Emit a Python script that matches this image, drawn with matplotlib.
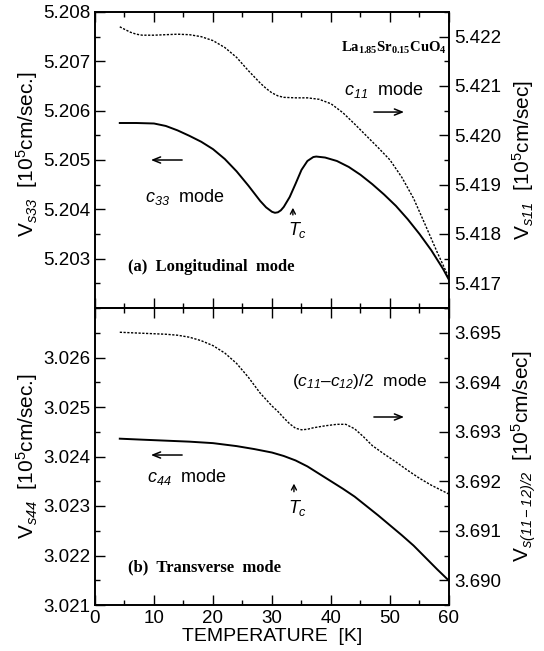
import matplotlib
matplotlib.use("Agg")
import matplotlib.pyplot as plt
from matplotlib.ticker import MultipleLocator, FixedLocator, FormatStrFormatter

plt.rcParams['font.family'] = ['Liberation Sans', 'DejaVu Sans']
plt.rcParams['mathtext.fontset'] = 'custom'
plt.rcParams['mathtext.rm'] = 'Liberation Sans:italic'
plt.rcParams['mathtext.it'] = 'Liberation Sans:italic'
plt.rcParams['mathtext.sf'] = 'Liberation Sans'
plt.rcParams['mathtext.bf'] = 'Liberation Serif:bold'

# (a) longitudinal: c33 (left axis, solid)
t_c33 = [4.2, 7, 10, 12, 14, 16, 18, 20, 22, 24, 26, 28, 29, 30, 30.5, 31,
         31.5, 32, 33, 34, 35, 36, 37, 37.5, 39, 41, 43, 45, 47, 49, 51, 53,
         55, 57, 59, 60]
v_c33 = [5.20575, 5.20575, 5.20574, 5.20569, 5.20560, 5.20549, 5.20537,
         5.20522, 5.20502, 5.20477, 5.20448, 5.20417, 5.20404, 5.20395,
         5.20393, 5.20394, 5.20398, 5.20405, 5.20425, 5.20452, 5.20480,
         5.20498, 5.20506, 5.20507, 5.20505, 5.20498, 5.20486, 5.20470,
         5.20451, 5.20430, 5.20407, 5.20380, 5.20350, 5.20317, 5.20279,
         5.20257]

# (a) longitudinal: c11 (right axis, dashed)
t_c11 = [4.2, 5, 6, 7, 8, 10, 12, 14, 16, 18, 20, 22, 24, 26, 28, 29, 30,
         31, 32, 34, 36, 38, 40, 42, 44, 46, 48, 50, 52, 54, 56, 58, 60]
v_c11 = [5.42220, 5.42215, 5.42209, 5.42205, 5.42203, 5.42203, 5.42204,
         5.42205, 5.42204, 5.42200, 5.42192, 5.42178, 5.42158, 5.42131,
         5.42106, 5.42095, 5.42086, 5.42080, 5.42077, 5.42076, 5.42076,
         5.42073, 5.42064, 5.42046, 5.42023, 5.41999, 5.41975, 5.41950,
         5.41915, 5.41872, 5.41818, 5.41763, 5.41711]

# (b) transverse: c44 (left axis, solid)
t_c44 = [4.2, 8, 12, 16, 20, 24, 27, 30, 32, 34, 36, 38, 40, 42, 44, 46, 48,
         50, 52, 54, 56, 58, 60]
v_c44 = [3.02436, 3.02434, 3.02432, 3.02430, 3.02427, 3.02421, 3.02415,
         3.02408, 3.02401, 3.02392, 3.02380, 3.02365, 3.02350, 3.02335,
         3.02319, 3.02300, 3.02281, 3.02261, 3.02241, 3.02220, 3.02196,
         3.02172, 3.02149]

# (b) transverse: (c11-c12)/2 (right axis, dashed)
t_c66 = [4.2, 8, 12, 14, 16, 18, 20, 22, 24, 26, 28, 30, 31, 32, 33, 34, 35,
         36, 37, 39, 41, 42.5, 44, 45.5, 47, 49, 51, 53, 55, 57, 60]
v_c66 = [3.69501, 3.69499, 3.69497, 3.69495, 3.69491, 3.69484, 3.69474,
         3.69459, 3.69438, 3.69410, 3.69378, 3.69352, 3.69341, 3.69328,
         3.69316, 3.69307, 3.69304, 3.69305, 3.69308, 3.69312, 3.69315,
         3.69315, 3.69306, 3.69290, 3.69272, 3.69255, 3.69239, 3.69222,
         3.69206, 3.69192, 3.69174]

fig = plt.figure(figsize=(5.44, 6.51), dpi=100)
L, R = 95 / 544, 449 / 544
ax1 = fig.add_axes([L, 1 - 308 / 651, R - L, 296 / 651])
ax2 = fig.add_axes([L, 1 - 605 / 651, R - L, 297 / 651], sharex=ax1)
ax1r = ax1.twinx()
ax2r = ax2.twinx()

dash = (0, (1.6, 1.1))
ax1.plot(t_c33, v_c33, color='k', lw=1.4)
ax1r.plot(t_c11, v_c11, color='k', lw=1.0, linestyle=dash)
ax2.plot(t_c44, v_c44, color='k', lw=1.4)
ax2r.plot(t_c66, v_c66, color='k', lw=1.0, linestyle=dash)

ax1.set_xlim(0, 60)
ax1.set_ylim(5.202, 5.208)
ax1r.set_ylim(5.4165, 5.4225)
ax2.set_ylim(3.021, 3.027)
ax2r.set_ylim(3.6895, 3.6955)

ax1.xaxis.set_major_locator(MultipleLocator(10))
ax1.xaxis.set_minor_locator(MultipleLocator(5))
majors = {ax1: [5.203, 5.204, 5.205, 5.206, 5.207, 5.208],
          ax1r: [5.417, 5.418, 5.419, 5.420, 5.421, 5.422],
          ax2: [3.021, 3.022, 3.023, 3.024, 3.025, 3.026],
          ax2r: [3.690, 3.691, 3.692, 3.693, 3.694, 3.695]}
for a, ticks in majors.items():
    a.yaxis.set_major_locator(FixedLocator(ticks))
    a.yaxis.set_minor_locator(MultipleLocator(0.0005))
    a.yaxis.set_major_formatter(FormatStrFormatter('%.3f'))
    a.tick_params(which='major', direction='in', length=7, width=1, labelsize=13.5)
    a.tick_params(which='minor', direction='in', length=3.5, width=1)
    for s in a.spines.values():
        s.set_linewidth(1.2)
for a in (ax1, ax2):
    a.tick_params(which='both', top=True, bottom=True, left=True, right=False)
ax2.tick_params(axis='x', labelsize=13.5)
for a in (ax1r, ax2r):
    a.tick_params(which='both', left=False, right=True)
ax1.tick_params(labelbottom=False)

lab = dict(fontsize=15)
ax1.set_ylabel(r'V$_{s33}$  [10$^{\mathsf{5}}$cm/sec.]', **lab)
ax1.yaxis.set_label_coords(-0.155, 0.52)
ax1r.set_ylabel(r'V$_{s11}$  [10$^{\mathsf{5}}$cm/sec]', **lab)
ax1r.yaxis.set_label_coords(1.172, 0.5)
ax2.set_ylabel(r'V$_{s44}$  [10$^{\mathsf{5}}$cm/sec.]', **lab)
ax2.yaxis.set_label_coords(-0.155, 0.5)
ax2r.set_ylabel(r'V$_{s(11-12)/2}$  [10$^{\mathsf{5}}$cm/sec]', **lab)
ax2r.yaxis.set_label_coords(1.172, 0.5)
ax2.set_xlabel('TEMPERATURE  [K]', fontsize=14, labelpad=1)

arr = dict(arrowstyle='->,head_length=0.55,head_width=0.22', lw=1.1, color='k')
tc_arr = dict(arrowstyle='->,head_length=0.35,head_width=0.18', lw=1.0, color='k')
serif = dict(family='Liberation Serif', fontweight='bold', fontsize=12)

# panel (a) annotations
ax1.text(0.695, 0.878, r'$\mathbf{La_{1.85}Sr_{0.15}CuO_4}$', transform=ax1.transAxes,
         fontsize=10.5, va='center', ha='left')
ax1.text(0.703, 0.736, r'$c_{11}$  mode', transform=ax1.transAxes,
         fontsize=13, va='center', ha='left')
ax1.annotate('', xy=(0.881, 0.662), xytext=(0.780, 0.662), xycoords='axes fraction',
             arrowprops=arr)
ax1.annotate('', xy=(0.150, 0.5), xytext=(0.254, 0.5), xycoords='axes fraction',
             arrowprops=arr)
ax1.text(0.141, 0.375, r'$c_{33}$  mode', transform=ax1.transAxes,
         fontsize=13, va='center', ha='left')
ax1.text(0.093, 0.139, '(a)  Longitudinal  mode', transform=ax1.transAxes,
         va='center', ha='left', **serif)
ax1.annotate('', xy=(0.559, 0.348), xytext=(0.559, 0.305), xycoords='axes fraction',
             arrowprops=tc_arr)
ax1.text(0.571, 0.262, r'$T_c$', transform=ax1.transAxes, fontsize=13,
         va='center', ha='center')

# panel (b) annotations
ax2.text(0.556, 0.751, r'($c_{11}$–$c_{12}$)/2  mode', transform=ax2.transAxes,
         fontsize=12.5, va='center', ha='left')
ax2.annotate('', xy=(0.881, 0.633), xytext=(0.780, 0.633), xycoords='axes fraction',
             arrowprops=arr)
ax2.annotate('', xy=(0.150, 0.505), xytext=(0.254, 0.505), xycoords='axes fraction',
             arrowprops=arr)
ax2.text(0.147, 0.431, r'$c_{44}$  mode', transform=ax2.transAxes,
         fontsize=13, va='center', ha='left')
ax2.text(0.093, 0.125, '(b)  Transverse  mode', transform=ax2.transAxes,
         va='center', ha='left', **serif)
ax2.annotate('', xy=(0.562, 0.418), xytext=(0.562, 0.372), xycoords='axes fraction',
             arrowprops=tc_arr)
ax2.text(0.571, 0.325, r'$T_c$', transform=ax2.transAxes, fontsize=13,
         va='center', ha='center')

fig.savefig('out.png', dpi=100)
